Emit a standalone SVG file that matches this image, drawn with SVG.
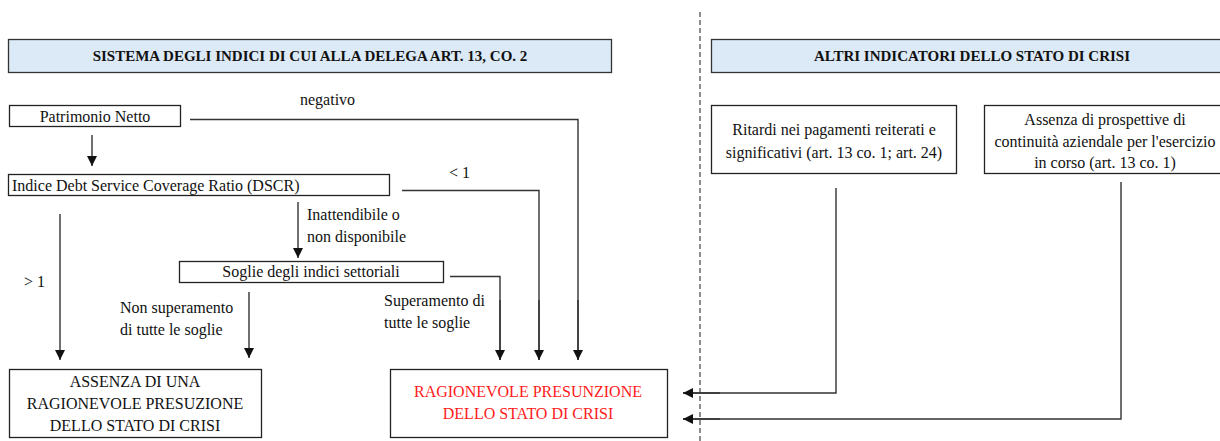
<svg xmlns="http://www.w3.org/2000/svg" width="1220" height="441" viewBox="0 0 1220 441">
  <defs>
    <marker id="arrow" markerUnits="userSpaceOnUse" markerWidth="10" markerHeight="12" refX="10" refY="5" orient="auto">
      <path d="M0,0 L10,5 L0,10 Z" fill="#111"/>
    </marker>
    <style>
      .t { font-family: 'Liberation Serif', Tinos, 'Times New Roman', 'DejaVu Serif', serif; font-size: 16px; fill: #111; }
      .hdr { fill: #dce9f6; stroke: #333; stroke-width: 1.3; }
      .hdr-t { font-weight: bold; font-size: 15px; text-anchor: middle; }
      .box { fill: #fff; stroke: #222; stroke-width: 1.3; }
      .c { text-anchor: middle; }
      .red { fill: #ff1a1a; }
      .conn { fill: none; stroke: #333; stroke-width: 1.4; }
      .arr { marker-end: url(#arrow); }
      .sep { stroke: #444; stroke-width: 1.2; stroke-dasharray: 5 3; }
    </style>
  </defs>

  <rect width="1220" height="441" fill="#fff"/>

  <!-- separator between the two panels -->
  <line class="sep" x1="700" y1="12" x2="700" y2="441"/>

  <g class="t" font-family="Liberation Serif, Tinos, Times New Roman, serif">
  <!-- panel headers -->
  <g id="header-left">
    <rect class="hdr" x="8.5" y="39.5" width="603" height="33"/>
    <text class="hdr-t" x="310" y="61">SISTEMA DEGLI INDICI DI CUI ALLA DELEGA ART. 13, CO. 2</text>
  </g>
  <g id="header-right">
    <rect class="hdr" x="711.5" y="39.5" width="520" height="33"/>
    <text class="hdr-t" x="972" y="61">ALTRI INDICATORI DELLO STATO DI CRISI</text>
  </g>

  <!-- connectors and their labels -->
  <g id="connectors">
    <path class="conn" d="M190,119.5 H578 V360"/>
    <path class="conn arr" d="M578,300 V360"/>
    <line class="conn arr" x1="92" y1="135" x2="92" y2="166"/>
    <path class="conn" d="M402,190.5 H539 V360"/>
    <path class="conn arr" d="M539,300 V360"/>
    <line class="conn arr" x1="60" y1="214" x2="60" y2="360"/>
    <line class="conn arr" x1="298" y1="202" x2="298" y2="258"/>
    <path class="conn" d="M450,276.5 H500 V360"/>
    <path class="conn arr" d="M500,300 V360"/>
    <line class="conn arr" x1="249" y1="292" x2="249" y2="358"/>
    <path class="conn" d="M836,188 V393 H683"/>
    <path class="conn arr" d="M720,393 H683"/>
    <path class="conn" d="M1121,182 V419 H683"/>
    <path class="conn arr" d="M720,419 H683"/>

    <text x="300" y="105">negativo</text>
    <text x="449" y="178">&lt; 1</text>
    <text x="24" y="287">&gt; 1</text>
    <text x="307" y="220">Inattendibile o</text>
    <text x="307" y="242">non disponibile</text>
    <text x="120" y="313">Non superamento</text>
    <text x="120" y="335">di tutte le soglie</text>
    <text x="384" y="306">Superamento di</text>
    <text x="384" y="328">tutte le soglie</text>
  </g>

  <!-- left panel nodes -->
  <g id="patrimonio-netto">
    <rect class="box" x="9.5" y="105.5" width="171" height="21"/>
    <text class="c" x="95" y="122">Patrimonio Netto</text>
  </g>
  <g id="dscr">
    <rect class="box" x="8.5" y="174.5" width="381" height="21"/>
    <text x="12" y="191">Indice Debt Service Coverage Ratio (DSCR)</text>
  </g>
  <g id="soglie">
    <rect class="box" x="179.5" y="261.5" width="264" height="21"/>
    <text class="c" x="311" y="277">Soglie degli indici settoriali</text>
  </g>
  <g id="assenza-presunzione">
    <rect class="box" x="9.5" y="369.5" width="252" height="68"/>
    <text class="c" x="135" y="387">ASSENZA DI UNA</text>
    <text class="c" x="135" y="409">RAGIONEVOLE PRESUZIONE</text>
    <text class="c" x="135" y="431">DELLO STATO DI CRISI</text>
  </g>
  <g id="presunzione-crisi">
    <rect class="box" x="390.5" y="369.5" width="277" height="68"/>
    <text class="c red" x="528" y="397">RAGIONEVOLE PRESUNZIONE</text>
    <text class="c red" x="528" y="419">DELLO STATO DI CRISI</text>
  </g>

  <!-- right panel nodes -->
  <g id="ritardi">
    <rect class="box" x="711.5" y="105.5" width="245" height="68"/>
    <text class="c" x="834" y="135">Ritardi nei pagamenti reiterati e</text>
    <text class="c" x="834" y="158">significativi (art. 13 co. 1; art. 24)</text>
  </g>
  <g id="continuita">
    <rect class="box" x="984.5" y="105.5" width="245" height="68"/>
    <text class="c" x="1105" y="125">Assenza di prospettive di</text>
    <text class="c" x="1105" y="147">continuità aziendale per l'esercizio</text>
    <text class="c" x="1105" y="168">in corso (art. 13 co. 1)</text>
  </g>
  </g>
</svg>
